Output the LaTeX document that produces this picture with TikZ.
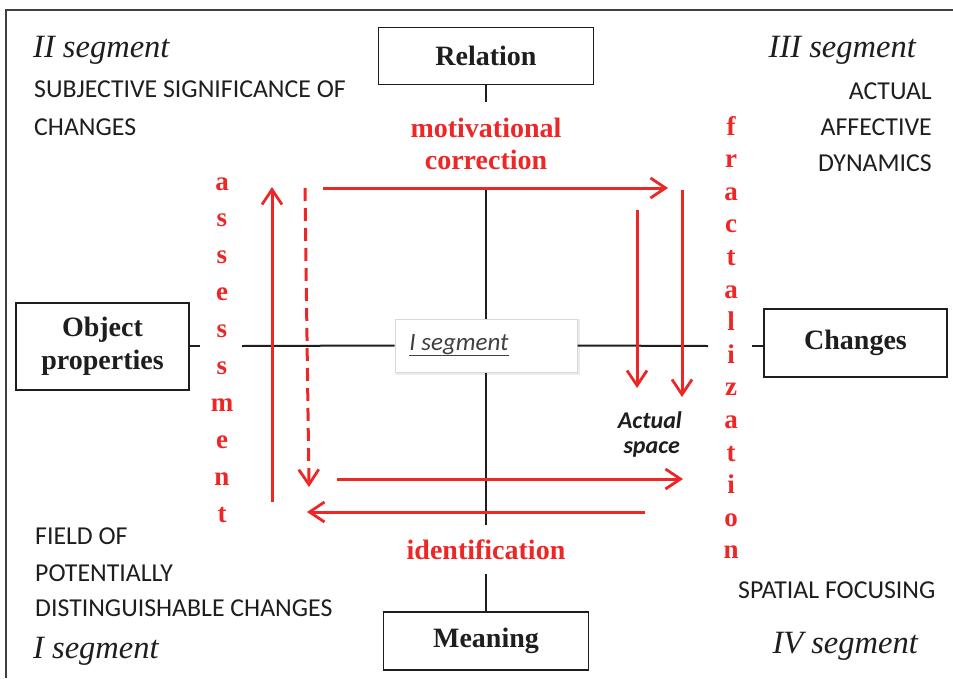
\documentclass[tikz,border=0pt]{standalone}
\usepackage{fontspec}
\setmainfont{Liberation Serif}
\newfontfamily\calfont{Carlito}
\usetikzlibrary{arrows.meta}
\definecolor{myred}{RGB}{237,38,38}
\definecolor{ink}{RGB}{30,30,30}
\begin{document}
\begin{tikzpicture}[x=1pt,y=-1pt,
 box/.style={draw=ink, line width=1.8pt, fill=white, inner sep=0pt, font=\fontsize{28}{33}\selectfont\bfseries, align=center, text=ink},
 axis/.style={line width=2pt, ink},
 seglbl/.style={font=\fontsize{32.5}{34}\selectfont\itshape, inner sep=0pt, text=ink},
 caps/.style={font=\calfont\fontsize{25.8}{27}\selectfont, inner sep=0pt, text=ink},
 redlbl/.style={font=\fontsize{28}{30}\selectfont\bfseries, text=myred, inner sep=0pt},
 letter/.style={font=\fontsize{27}{28}\selectfont\bfseries, text=myred, inner sep=0pt},
 rarrow/.style={myred, line width=3pt, -{Straight Barb[length=15pt,width=20pt,line width=2.8pt]}},
 rline/.style={myred, line width=3pt}
]
\useasboundingbox (0,0) rectangle (953,678);

% outer frame (top and left edges)
\coordinate (frTL) at (6,10);
\coordinate (frTR) at (953,10);
\coordinate (frBL) at (6,678);
\draw[line width=2pt, ink!85] (frTR) -- (frTL) -- (frBL);

% boxes
\node[box, minimum width=215, minimum height=57] (relation) at (486,56) {Relation};
\node[box, minimum width=173, minimum height=87] (objprop) at (102.5,346.5) {Object\\properties};
\node[box, minimum width=183, minimum height=68] (changes) at (855.5,343) {\raisebox{-4pt}{Changes}};
\node[box, minimum width=205, minimum height=58] (meaning) at (486,641) {Meaning};

% central I segment box
\node[draw=black!15, line width=1pt, fill=white, minimum width=182, minimum height=53, inner sep=0pt] (iseg) at (486,345.5) {};
\draw[black!8, line width=2pt] ([xshift=1pt,yshift=-1.5pt]iseg.south west) -- ([xshift=1.5pt,yshift=-1.5pt]iseg.south east) -- ([xshift=1.5pt]iseg.north east);
\node[font=\calfont\itshape\fontsize{25}{27}\selectfont, text=black!75, anchor=base, inner sep=0pt] (isegtxt) at (459,350) {\underline{I segment}};

% axis break points
\coordinate (vt1) at (486,102);
\coordinate (vt2) at (486,190);
\coordinate (vb1) at (486,525);
\coordinate (vb2) at (486,574);
\coordinate (hl1) at (200,346);
\coordinate (hl2) at (242,346);
\coordinate (hr1) at (708,346);
\coordinate (hr2) at (752,346);

\draw[axis] (relation.south) -- (vt1);
\draw[axis] (vt2) -- (iseg.north);
\draw[axis] (iseg.south) -- (vb1);
\draw[axis] (vb2) -- (meaning.north);
\draw[axis] (objprop.east |- hl1) -- (hl1);
\draw[axis] (hl2) -- (iseg.west);
\draw[axis] (iseg.east) -- (hr1);
\draw[axis] (hr2) -- (changes.west |- hr2);

% red labels
\node[redlbl, anchor=base] (motiv) at (486,137) {motivational};
\node[redlbl, anchor=base] (corr) at (486,169) {correction};
\node[redlbl, anchor=base] (ident) at (486,559) {identification};

\foreach \l [count=\i from 0] in {a,s,s,e,s,s,m,e,n,t}
  \node[letter, anchor=base] (as\i) at (222,{190+36.9*\i}) {\l};
\foreach \l [count=\i from 0] in {f,r,a,c,t,a,l,i,z,a,t,i,o,n}
  \node[letter, anchor=base] (fr\i) at (731,{135+32.6*\i}) {\l};

% actual space
\node[font=\calfont\bfseries\itshape\fontsize{24}{26}\selectfont, text=ink, anchor=base east, inner sep=0pt] (act1) at (682,428) {Actual};
\node[font=\calfont\bfseries\itshape\fontsize{24}{26}\selectfont, text=ink, anchor=base east, inner sep=0pt] (act2) at (680,453) {space};

% red arrows
\coordinate (ta1) at (323,188);
\coordinate (ta2) at (668,188);
\coordinate (rv1a) at (637,210);
\coordinate (rv1b) at (637,388);
\coordinate (rv2a) at (682,190);
\coordinate (rv2b) at (682,397);
\coordinate (lu1) at (272,502);
\coordinate (lu2) at (272,187);
\coordinate (ld1) at (305,188);
\coordinate (ld2) at (309,487);
\coordinate (br1) at (337,479);
\coordinate (br2) at (683,479);
\coordinate (bl1) at (645,512);
\coordinate (bl2) at (307,512);

\draw[rarrow] (ta1) -- (ta2);
\draw[rarrow] (rv1a) -- (rv1b);
\draw[rarrow] (rv2a) -- (rv2b);
\draw[rarrow] (lu1) -- (lu2);
\draw[rarrow, dash pattern=on 13pt off 7pt] (ld1) -- (ld2);
\draw[rarrow] (br1) -- (br2);
\draw[rarrow] (bl1) -- (bl2);

% segment labels
\node[seglbl, anchor=base west] (seg2) at (33,57) {II segment};
\node[seglbl, anchor=base east] (seg3) at (916,57) {III segment};
\node[seglbl, anchor=base west] (seg1) at (33,658) {I segment};
\node[seglbl, anchor=base east] (seg4) at (918,653) {IV segment};

% caps texts
\node[caps, anchor=base west] (t2a) at (34,97) {SUBJECTIVE SIGNIFICANCE OF};
\node[caps, anchor=base west] (t2b) at (34,135) {CHANGES};
\node[caps, anchor=base east] (t3a) at (932,99) {ACTUAL};
\node[caps, anchor=base east] (t3b) at (932,135) {AFFECTIVE};
\node[caps, anchor=base east] (t3c) at (932,171) {DYNAMICS};
\node[caps, anchor=base west] (t1a) at (35,544) {FIELD OF};
\node[caps, anchor=base west] (t1b) at (35,581) {POTENTIALLY};
\node[caps, anchor=base west] (t1c) at (35,616) {DISTINGUISHABLE CHANGES};
\node[caps, anchor=base west] (t4a) at (738,598) {SPATIAL FOCUSING};
\end{tikzpicture}
\end{document}
